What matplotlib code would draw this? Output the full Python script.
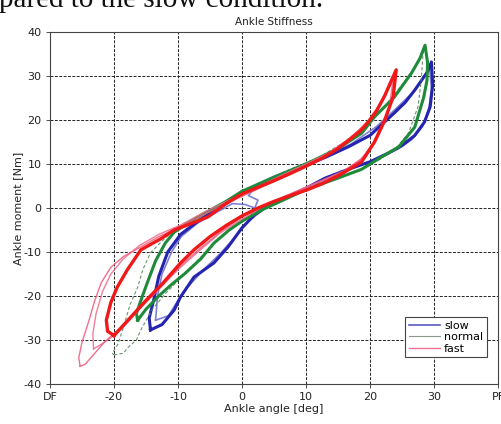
import matplotlib
matplotlib.use("Agg")
import matplotlib.pyplot as plt
from matplotlib.lines import Line2D

# ---------------- data ----------------
x_ticks = [-30, -20, -10, 0, 10, 20, 30, 40]
x_tick_labels = ["DF", "-20", "-10", "0", "10", "20", "30", "PF"]
y_ticks = [-40, -30, -20, -10, 0, 10, 20, 30, 40]
y_tick_labels = ["-40", "-30", "-20", "-10", "0", "10", "20", "30", "40"]

# slow (blue), cycle 1 and 2
slow1_x = [-14.3, -12.5, -10.6, -9.6, -7.5, -4.4, -2.2, 0.0, 2.0, 4.0, 6.0, 10.0, 13.0, 16.6, 20.0, 22.9, 25.0, 27.0, 28.5, 29.4, 29.8, 29.6,
           29.0, 27.0, 25.5, 23.8, 20.0, 16.6, 13.0, 10.0, 5.0, 2.0, 0.0, -3.0, -6.4, -9.6, -11.6, -13.0, -13.8, -14.5, -14.3]
slow1_y = [-27.7, -26.5, -23.2, -20.2, -15.7, -12.5, -8.9, -4.5, -1.5, 0.5, 1.8, 4.5, 6.8, 8.8, 10.5, 12.5, 14.2, 16.5, 19.5, 23.0, 28.0, 33.2,
           31.0, 26.8, 24.0, 21.6, 16.5, 13.9, 11.5, 9.8, 6.8, 4.8, 3.5, 0.5, -2.5, -6.0, -10.0, -15.5, -20.9, -25.0, -27.7]
slow2_x = [-13.5, -11.5, -10.0, -8.5, -6.0, -3.5, -1.0, 1.0, 3.5, 7.0, 11.0, 15.0, 19.0, 22.0, 24.5, 26.5, 28.2, 29.2, 29.6, 29.3,
           28.5, 26.5, 24.0, 21.0, 17.0, 13.0, 9.0, 5.0, 2.5, 1.0, 2.5, 2.0, 0.5, -1.5, -4.0, -7.0, -9.5, -11.0, -12.5, -13.2, -13.5]
slow2_y = [-25.5, -24.5, -21.0, -18.0, -14.0, -10.5, -6.5, -3.0, -0.2, 2.5, 5.2, 7.8, 10.0, 11.8, 13.5, 15.5, 18.5, 22.5, 27.0, 32.0,
           30.0, 26.0, 22.5, 18.5, 14.5, 11.8, 9.5, 7.2, 5.5, 2.8, 1.8, 0.0, 0.8, 1.0, -1.0, -3.5, -6.5, -10.0, -15.0, -20.0, -25.5]

# normal (green)
normal1_x = [-16.3, -15.0, -13.0, -11.1, -9.0, -6.4, -4.4, -2.0, 0.0, 3.0, 6.0, 10.0, 15.0, 18.7, 21.8, 24.5, 27.0, 28.4, 28.9, 29.0, 28.6,
             27.8, 26.5, 23.8, 20.7, 18.7, 15.0, 10.0, 5.0, 0.0, -2.5, -5.0, -8.0, -10.6, -12.0, -13.5, -14.8, -15.8, -16.5, -16.3]
normal1_y = [-25.5, -23.0, -20.0, -17.5, -15.0, -11.5, -8.0, -5.0, -3.0, -0.5, 1.5, 4.2, 6.8, 8.8, 11.6, 13.9, 18.4, 25.2, 29.0, 33.0, 37.0,
             34.0, 30.7, 25.2, 20.7, 17.0, 13.5, 10.0, 7.0, 3.8, 1.5, -0.5, -3.0, -5.5, -8.0, -12.0, -17.0, -21.0, -24.0, -25.5]
normal2_x = [-20.0, -18.5, -17.9, -16.5, -15.8, -14.0, -12.0, -9.5, -7.0, -4.0, -1.0, 2.0, 6.0, 10.0, 14.0, 18.0, 21.5, 24.0, 26.0, 27.5, 28.0, 28.3,
             27.0, 25.0, 22.5, 19.5, 16.0, 12.0, 7.0, 2.0, -2.0, -6.0, -9.0, -11.1, -12.5, -14.3, -15.5, -16.3, -17.5, -18.5, -19.4, -20.3, -20.0]
normal2_y = [-33.4, -33.0, -31.8, -30.0, -27.7, -23.0, -19.5, -15.8, -12.0, -7.5, -3.8, -1.0, 1.8, 4.5, 6.5, 8.5, 11.0, 13.5, 17.0, 23.0, 29.0, 35.5,
             32.0, 28.0, 23.5, 19.0, 15.0, 11.5, 8.5, 5.0, 2.0, -1.5, -3.5, -5.7, -7.5, -10.2, -14.0, -18.0, -22.0, -27.0, -31.0, -33.0, -33.4]

# fast (red)
fast1_x = [-20.0, -17.5, -15.0, -12.5, -9.6, -7.5, -5.0, -2.5, 0.0, 2.5, 5.0, 7.5, 10.3, 12.5, 15.0, 17.0, 18.7, 20.7, 22.3, 23.6, 24.1,
           23.2, 22.3, 21.0, 20.0, 18.5, 16.6, 15.0, 12.5, 10.0, 7.5, 5.0, 2.5, 0.0, -2.5, -5.3, -7.5, -10.6, -12.7, -15.8, -17.9, -19.5, -20.5, -21.2, -21.0, -20.0]
fast1_y = [-29.0, -25.0, -21.0, -17.3, -12.5, -9.5, -6.5, -4.0, -1.8, 0.0, 1.5, 2.8, 4.2, 5.5, 7.3, 9.0, 10.5, 15.0, 20.0, 25.2, 31.4,
           28.5, 25.5, 22.0, 20.0, 17.5, 15.3, 13.5, 11.3, 9.5, 7.8, 6.2, 4.7, 3.2, 1.0, -2.0, -3.3, -5.0, -7.0, -9.5, -14.0, -18.0, -21.5, -25.5, -28.0, -29.0]
fast2_x = [-25.3, -24.5, -23.0, -21.5, -20.0, -18.0, -15.5, -12.5, -9.5, -6.0, -3.0, 0.5, 4.0, 8.0, 12.0, 16.0, 19.0, 21.0, 22.5, 23.5, 24.0,
           23.0, 21.5, 19.5, 17.0, 14.0, 10.0, 6.0, 2.0, -2.0, -6.0, -10.0, -13.0, -16.0, -18.5, -20.5, -22.0, -23.0, -24.0, -25.0, -25.5, -25.3]
fast2_y = [-36.0, -35.5, -33.0, -30.5, -28.5, -26.0, -22.0, -17.5, -13.0, -8.5, -5.0, -1.5, 1.0, 3.5, 6.0, 8.5, 11.5, 15.5, 20.0, 25.0, 30.5,
           28.0, 23.5, 19.5, 16.0, 12.8, 9.5, 6.8, 4.0, 1.3, -1.5, -4.5, -6.5, -9.0, -11.0, -13.5, -17.0, -21.0, -26.0, -30.5, -34.0, -36.0]
fast3_x = [-23.2, -22.0, -20.5, -18.5, -16.0, -13.0, -10.0, -6.5, -3.5, 0.0, 3.5, 7.5, 11.5, 15.5, 18.5, 20.5, 22.0, 23.0, 23.6,
           22.5, 21.0, 19.0, 16.5, 13.5, 10.0, 6.0, 2.0, -2.0, -6.0, -9.5, -13.0, -16.0, -18.5, -20.5, -21.8, -22.8, -23.3, -23.2]
fast3_y = [-32.0, -31.0, -29.5, -27.0, -23.0, -18.5, -14.0, -9.5, -5.8, -2.5, 0.5, 3.0, 5.5, 8.0, 11.0, 14.5, 18.5, 23.0, 29.0,
           26.0, 22.0, 18.5, 15.5, 12.5, 10.0, 7.3, 4.5, 1.8, -1.0, -3.8, -6.0, -8.5, -11.5, -15.0, -19.0, -24.0, -28.5, -32.0]

series_labels = ["slow", "normal", "fast"]

# ---------------- figure ----------------
fig = plt.figure(figsize=(5.02, 4.24), dpi=100)
fig.patch.set_facecolor("white")

# clipped running text of the scanned page (only its lower part is visible)
fig.text(-0.002, 0.983, "pared to the slow condition.", fontsize=21,
         family="Liberation Serif", ha="left", va="baseline", color="#111111")

ax = fig.add_axes([50 / 502, (424 - 384) / 424, 448 / 502, 352 / 424])

ax.plot(slow2_x, slow2_y, color="#6a6ad0", lw=1.2, alpha=0.85)
ax.plot(slow1_x, slow1_y, color="#2424b0", lw=2.2)
ax.plot(normal2_x, normal2_y, color="#5a8a60", lw=0.8, ls=(0, (3, 2)), alpha=0.9)
ax.plot(normal1_x, normal1_y, color="#1f8a3a", lw=2.2)
ax.plot(fast3_x, fast3_y, color="#f07090", lw=1.0, alpha=0.9)
ax.plot(fast2_x, fast2_y, color="#f06080", lw=1.0, alpha=0.9)
ax.plot(fast1_x, fast1_y, color="#f01818", lw=2.4)

ax.set_xlim(-30, 40)
ax.set_ylim(-40, 40)
ax.set_xticks(x_ticks)
ax.set_xticklabels(x_tick_labels)
ax.set_yticks(y_ticks)
ax.set_yticklabels(y_tick_labels)
ax.tick_params(labelsize=8, length=3, width=0.6, color="#333333", labelcolor="#222222", pad=3)
ax.grid(True, color="#222222", lw=0.7, ls=(0, (3, 1.5)))
for s in ax.spines.values():
    s.set_color("#444444")
    s.set_linewidth(0.8)

ax.set_title("Ankle Stiffness", fontsize=7.5, color="#222222", pad=5)
ax.set_xlabel("Ankle angle [deg]", fontsize=8, color="#222222", labelpad=1)
ax.set_ylabel("Ankle moment [Nm]", fontsize=8, color="#222222", labelpad=0)

handles = [Line2D([], [], color="#5a5ac0", lw=1.2),
           Line2D([], [], color="#8a9a8a", lw=0.8),
           Line2D([], [], color="#f07090", lw=1.0)]
leg = ax.legend(handles, series_labels, loc="lower right", bbox_to_anchor=(0.987, 0.06),
                fontsize=8, handlelength=2.8, handletextpad=0.4, borderpad=0.3,
                labelspacing=0.15, fancybox=False, framealpha=1, edgecolor="#444444")
leg.get_frame().set_linewidth(0.8)

fig.savefig("out.png", dpi=100)
